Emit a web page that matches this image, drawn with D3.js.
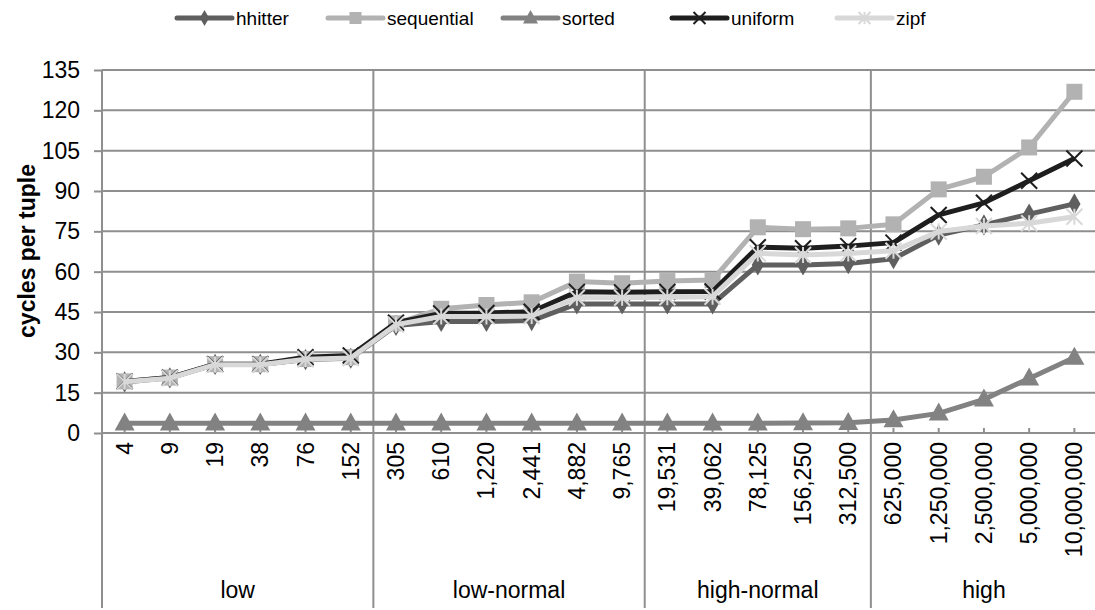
<!DOCTYPE html>
<html>
<head>
<meta charset="utf-8">
<script src="https://cdn.jsdelivr.net/npm/d3@7"></script>
<style>
  body { margin: 0; background: #fff; }
  svg { display: block; font-family: "Liberation Sans", Arial, sans-serif; }
</style>
</head>
<body>
<svg id="chart" width="1095" height="610"></svg>
<script>
// categorias del eje x, con su grupo (eje de dos niveles)
var categorias = ["4", "9", "19", "38", "76", "152",
  "305", "610", "1,220", "2,441", "4,882", "9,765",
  "19,531", "39,062", "78,125", "156,250", "312,500",
  "625,000", "1,250,000", "2,500,000", "5,000,000", "10,000,000"];
var grupos = ["low", "low-normal", "high-normal", "high"];
var tamGrupos = [6, 6, 5, 5];

var hhitter = [19, 20.5, 25.5, 25.5, 27.3, 27.8, 40, 41.5, 41.5, 41.8, 48, 48,
  48, 48, 62.5, 62.5, 63, 64.8, 73.6, 77.4, 81.4, 85.2];
var sequential = [19.2, 20.6, 25.6, 25.6, 27.5, 28.2, 40.8, 46.2, 47.6, 48.6, 56.3, 55.7,
  56.5, 56.9, 76.5, 75.8, 76.1, 77.6, 90.6, 95.3, 106.2, 126.9];
var sorted = [3.6, 3.6, 3.6, 3.6, 3.6, 3.6, 3.6, 3.6, 3.6, 3.6, 3.6, 3.6,
  3.6, 3.6, 3.6, 3.7, 3.8, 4.8, 7.3, 12.5, 20.3, 28.1];
var uniform = [19.2, 20.6, 25.6, 25.6, 28.2, 28.8, 41, 44.5, 44.6, 45.1, 52.5, 52.3,
  52.5, 52.6, 69.1, 68.7, 69.5, 70.8, 81.1, 85.6, 93.8, 102.1];
var zipf = [19.1, 20.4, 25.4, 25.4, 27.4, 27.9, 40.3, 43.3, 43.3, 43.5, 50.3, 50.3,
  50.5, 50.7, 66.8, 66.2, 66.8, 67.8, 74.9, 77, 78, 80.4];

var yTicks = [0, 15, 30, 45, 60, 75, 90, 105, 120, 135];

var series = [
  { nombre: "hhitter", valores: hhitter, color: "#5f5f5f", marca: "rombo" },
  { nombre: "sequential", valores: sequential, color: "#b2b2b2", marca: "cuadro" },
  { nombre: "sorted", valores: sorted, color: "#828282", marca: "triangulo" },
  { nombre: "uniform", valores: uniform, color: "#1e1e1e", marca: "equis" },
  { nombre: "zipf", valores: zipf, color: "#d8d8d8", marca: "asterisco" }
];

var FUENTE = 23;
var FUENTE_LEYENDA = 19;
var GRIS_EJE = "#8f8f8f";
// donde arranca cada entrada de la leyenda (asi queda como en excel)
var LEYENDA_X = [177, 328, 503, 672, 837];
var svg = d3.select("#chart");

var izq = 102, der = 1097, arriba = 70, abajo = 433;

var x = d3.scaleBand().domain(d3.range(categorias.length)).range([izq, der]).padding(0);
var cx = function (i) { return x(i) + x.bandwidth() / 2; };
var y = d3.scaleLinear().domain([0, 135]).range([abajo, arriba]);

// marcas y numeros del eje y
var gy = svg.append("g").attr("transform", "translate(" + izq + ",0)")
  .call(d3.axisLeft(y).tickValues(yTicks).tickSize(8).tickPadding(14));
gy.select(".domain").remove();
gy.selectAll("line").attr("stroke", GRIS_EJE).attr("stroke-width", 2);
gy.selectAll("text").attr("font-size", FUENTE).attr("fill", "#000")
  .attr("font-family", "Liberation Sans, Arial, sans-serif");

// rejilla horizontal
svg.append("g").selectAll("line").data(yTicks).enter().append("line")
  .attr("x1", izq).attr("x2", der)
  .attr("y1", function (d) { return y(d); }).attr("y2", function (d) { return y(d); })
  .attr("stroke", GRIS_EJE).attr("stroke-width", 2);

// separadores verticales de los grupos (y el eje izquierdo)
var limites = [0];
tamGrupos.forEach(function (n, i) { limites.push(limites[i] + n); });
var xLimite = function (k) { return k < categorias.length ? x(k) : der; };
svg.append("g").selectAll("line").data(limites).enter().append("line")
  .attr("x1", xLimite).attr("x2", xLimite)
  .attr("y1", arriba).attr("y2", 608)
  .attr("stroke", GRIS_EJE).attr("stroke-width", 2);

// marquitas hacia adentro en cada categoria
svg.append("g").selectAll("line").data(d3.range(categorias.length)).enter().append("line")
  .attr("x1", cx).attr("x2", cx).attr("y1", abajo).attr("y2", abajo - 5)
  .attr("stroke", GRIS_EJE).attr("stroke-width", 2);

// etiquetas de categoria giradas
svg.append("g").selectAll("text").data(categorias).enter().append("text")
  .attr("transform", function (d, i) { return "translate(" + (cx(i) + 8) + "," + (abajo + 9) + ") rotate(-90)"; })
  .attr("text-anchor", "end").attr("font-size", FUENTE)
  .text(function (d) { return d; });

// etiquetas de grupo
svg.append("g").selectAll("text").data(grupos).enter().append("text")
  .attr("x", function (g, i) { return (xLimite(limites[i]) + xLimite(limites[i + 1])) / 2; })
  .attr("y", 598).attr("text-anchor", "middle").attr("font-size", FUENTE)
  .text(function (g) { return g; });

// titulo del eje y
svg.append("text").attr("transform", "translate(35,251) rotate(-90)")
  .attr("text-anchor", "middle").attr("font-size", 23).attr("font-weight", "bold")
  .text("cycles per tuple");

function dibujarMarca(g, tipo, color, px, py, esc) {
  var s = esc || 1;
  if (tipo === "rombo") {
    g.append("path").attr("d", d3.symbol(d3.symbolDiamond, 130 * s * s)())
      .attr("transform", "translate(" + px + "," + py + ")").attr("fill", color);
  } else if (tipo === "cuadro") {
    g.append("rect").attr("x", px - 8 * s).attr("y", py - 8 * s)
      .attr("width", 16 * s).attr("height", 16 * s).attr("fill", color);
  } else if (tipo === "triangulo") {
    var h = 18 * s, w = 20 * s;
    g.append("path").attr("d", "M" + px + "," + (py - h * 0.6) + "L" + (px + w / 2) + "," + (py + h * 0.4) +
      "L" + (px - w / 2) + "," + (py + h * 0.4) + "Z").attr("fill", color);
  } else if (tipo === "equis" || tipo === "asterisco") {
    var r = 8 * s;
    var d = "M" + (px - r) + "," + (py - r) + "L" + (px + r) + "," + (py + r) +
      "M" + (px - r) + "," + (py + r) + "L" + (px + r) + "," + (py - r);
    if (tipo === "asterisco") d += "M" + px + "," + (py - r) + "L" + px + "," + (py + r);
    g.append("path").attr("d", d).attr("stroke", color).attr("stroke-width", 2).attr("fill", "none");
  }
}

var linea = d3.line().x(function (d, i) { return cx(i); }).y(function (d) { return y(d); });

series.forEach(function (s) {
  var g = svg.append("g").attr("class", "serie");
  g.append("path").datum(s.valores).attr("d", linea)
    .attr("fill", "none").attr("stroke", s.color).attr("stroke-width", 5)
    .attr("stroke-linejoin", "round");
  s.valores.forEach(function (v, i) { dibujarMarca(g, s.marca, s.color, cx(i), y(v)); });
});

// leyenda arriba
var ley = svg.append("g");
series.forEach(function (s, k) {
  var xl = LEYENDA_X[k];
  var it = ley.append("g");
  it.append("line").attr("x1", xl).attr("x2", xl + 55).attr("y1", 18).attr("y2", 18)
    .attr("stroke", s.color).attr("stroke-width", 5).attr("stroke-linecap", "round");
  dibujarMarca(it, s.marca, s.color, xl + 27.5, 18, 0.75);
  it.append("text").attr("x", xl + 59).attr("y", 25).attr("font-size", FUENTE_LEYENDA).text(s.nombre);
});
</script>
</body>
</html>
